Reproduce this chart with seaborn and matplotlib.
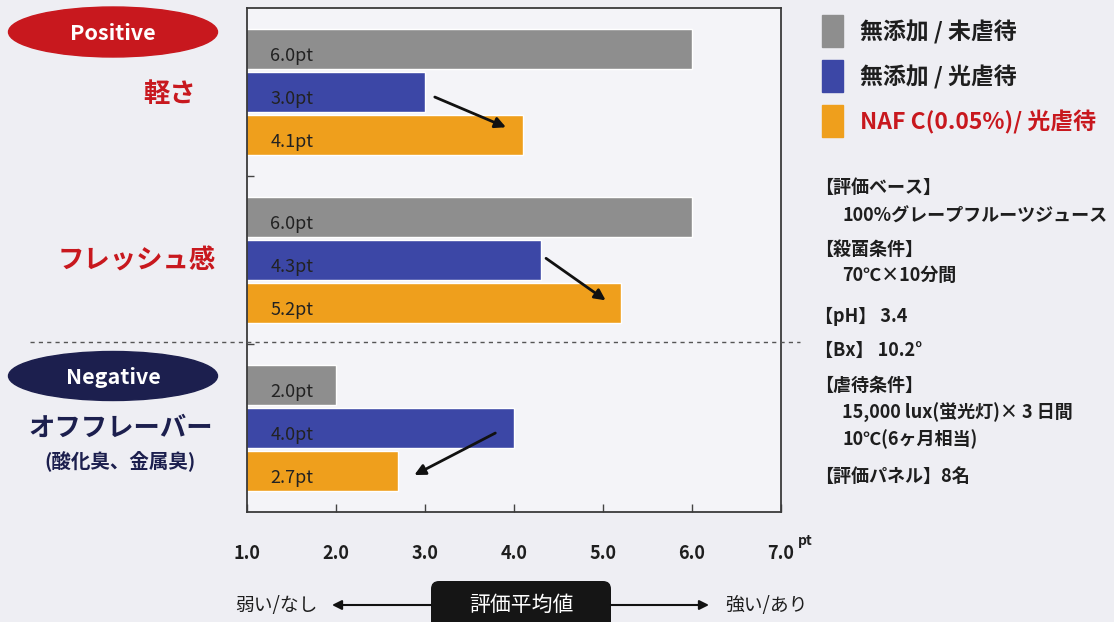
# -*- coding: utf-8 -*-

# Package Loading
import matplotlib
matplotlib.use("Agg")
import matplotlib.pyplot as plt
from matplotlib.patches import Ellipse, Rectangle, FancyBboxPatch
import pandas as pd
import seaborn as sns

# Data
attributes = ["軽さ", "フレッシュ感", "オフフレーバー"]
conditions = ["無添加 / 未虐待", "無添加 / 光虐待", "NAF C(0.05%)/ 光虐待"]
untreated = [6.0, 6.0, 2.0]      # 無添加 / 未虐待
light_plain = [3.0, 4.3, 4.0]    # 無添加 / 光虐待
light_naf = [4.1, 5.2, 2.7]      # NAF C(0.05%)/ 光虐待
x_ticks = [1.0, 2.0, 3.0, 4.0, 5.0, 6.0, 7.0]

bar_colors = ["#8e8e8e", "#3c47a6", "#ef9f1c"]
red = "#c8181e"
navy = "#1c1f4e"
ink = "#1e1e1e"

# Tidy table for seaborn
df = pd.DataFrame({
    "attr": attributes * 3,
    "cond": [c for c in conditions for _ in attributes],
    "value": untreated + light_plain + light_naf,
})

sns.set_theme(style="white")
plt.rcParams["font.family"] = ["Noto Sans CJK JP", "DejaVu Sans"]

W, H = 1114, 622
fig = plt.figure(figsize=(W / 100, H / 100), dpi=100)
fig.patch.set_facecolor("#eeeef3")

# main axes (pixel box 247..781 x 8..512)
ax = fig.add_axes([247 / W, 1 - 512 / H, (781 - 247) / W, (512 - 8) / H])
ax.set_facecolor("#f4f4f8")
sns.barplot(data=df, x="value", y="attr", hue="cond", hue_order=conditions,
            order=attributes, palette=bar_colors, orient="h", width=0.77,
            gap=0.07, saturation=1, legend=False, ax=ax)

ax.set_xlim(1, 7)
ax.set_ylim(2.5, -0.5)
ax.set_xlabel("")
ax.set_ylabel("")
ax.set_xticks(x_ticks)
ax.set_xticklabels([f"{t:.1f}" for t in x_ticks], fontsize=13,
                   fontweight="bold", color=ink)
ax.set_yticks([0.5, 1.5])
ax.set_yticklabels([])
ax.tick_params(axis="x", direction="in", length=6, width=1, color="#444",
               pad=23, bottom=True)
ax.tick_params(axis="y", direction="in", length=5, width=1, color="#444",
               left=True)
for s in ax.spines.values():
    s.set_color("#3a3a3a")
    s.set_linewidth(1.3)
    s.set_visible(True)

# value labels inside the bars
for container, vals in zip(ax.containers, [untreated, light_plain, light_naf]):
    for bar, v in zip(container, vals):
        yc = bar.get_y() + bar.get_height() / 2
        ax.text(1.26, yc + 0.04, f"{v:.1f}pt", ha="left", va="center",
                fontsize=13, color="#222")

# change arrows (blue -> orange)
arrows = [((3.11, 0.03), (3.91, 0.21)),
          ((4.36, 0.99), (5.03, 1.24)),
          ((3.79, 2.03), (2.88, 2.28))]
for start, end in arrows:
    ax.annotate("", xy=end, xytext=start,
                arrowprops=dict(arrowstyle="-|>", color="#111", lw=2,
                                mutation_scale=16, shrinkA=0, shrinkB=0))

# overlay in pixel units for the surrounding decorations
ov = fig.add_axes([0, 0, 1, 1], zorder=5)
ov.set_xlim(0, W)
ov.set_ylim(H, 0)
ov.axis("off")
ov.patch.set_alpha(0)

ov.plot([30, 800], [342, 342], color="#555", lw=1, dashes=(3, 3))

ov.add_patch(Ellipse((113, 32), 209, 50, color=red))
ov.text(113, 33, "Positive", color="white", fontsize=15.5, fontweight="bold",
        ha="center", va="center")
ov.add_patch(Ellipse((113, 376), 209, 49, color=navy))
ov.text(113, 377, "Negative", color="white", fontsize=15.5, fontweight="bold",
        ha="center", va="center")

ov.text(170, 95, "軽さ", color=red, fontsize=19, fontweight="bold",
        ha="center", va="center")
ov.text(137, 261, "フレッシュ感", color=red, fontsize=19, fontweight="bold",
        ha="center", va="center")
ov.text(121, 428, "オフフレーバー", color=navy, fontsize=19, fontweight="bold",
        ha="center", va="center")
ov.text(120, 461, "(酸化臭、金属臭)", color=navy, fontsize=14,
        fontweight="bold", ha="center", va="center")

# legend
legend_y = [31, 76, 121]
for cond, col, y in zip(conditions, bar_colors, legend_y):
    ov.add_patch(Rectangle((822, y - 16), 21, 32, color=col))
    tc = red if cond.startswith("NAF") else ink
    ov.text(860, y + 1, cond, color=tc, fontsize=16.5, fontweight="bold",
            ha="left", va="center")

# conditions text block
info = [
    (815, 187, "【評価ベース】"),
    (842, 216, "100%グレープフルーツジュース"),
    (815, 249, "【殺菌条件】"),
    (842, 275, "70℃×10分間"),
    (815, 316, "【pH】 3.4"),
    (815, 350, "【Bx】 10.2°"),
    (815, 385, "【虐待条件】"),
    (842, 413, "15,000 lux(蛍光灯)× 3 日間"),
    (842, 439, "10℃(6ヶ月相当)"),
    (815, 476, "【評価パネル】8名"),
]
for x, y, s in info:
    ov.text(x, y, s, color=ink, fontsize=13, fontweight="bold",
            ha="left", va="center")

# unit and scale direction row
ov.text(805, 541, "pt", color=ink, fontsize=10, fontweight="bold",
        ha="center", va="center")
ov.text(276, 605, "弱い/なし", color=ink, fontsize=13.5, ha="center",
        va="center")
ov.text(766, 605, "強い/あり", color=ink, fontsize=13.5, ha="center",
        va="center")
ov.annotate("", xy=(332, 605), xytext=(431, 605),
            arrowprops=dict(arrowstyle="-|>", color="#111", lw=1.5,
                            mutation_scale=14, shrinkA=0, shrinkB=0))
ov.annotate("", xy=(709, 605), xytext=(611, 605),
            arrowprops=dict(arrowstyle="-|>", color="#111", lw=1.5,
                            mutation_scale=14, shrinkA=0, shrinkB=0))
ov.add_patch(FancyBboxPatch((431, 581), 180, 50,
                            boxstyle="round,pad=0,rounding_size=8",
                            fc="#151515", ec="none"))
ov.text(521, 605, "評価平均値", color="white", fontsize=15, ha="center",
        va="center")

plt.savefig("out.png", dpi=100, facecolor=fig.get_facecolor())
plt.close("all")
